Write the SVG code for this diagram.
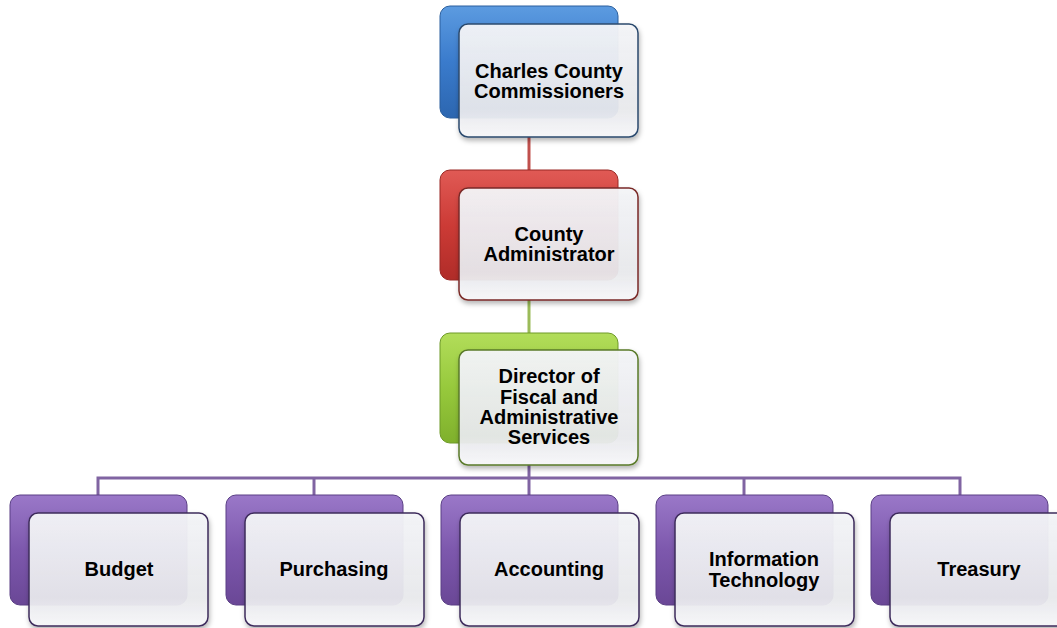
<svg xmlns="http://www.w3.org/2000/svg" width="1057" height="628" viewBox="0 0 1057 628">
<defs>
<linearGradient id="gBlue" x1="0" y1="0" x2="0" y2="1"><stop offset="0" stop-color="#5c9be0"/><stop offset="0.5" stop-color="#3a7bcc"/><stop offset="1" stop-color="#2c66b0"/></linearGradient>
<linearGradient id="gRed" x1="0" y1="0" x2="0" y2="1"><stop offset="0" stop-color="#e05a55"/><stop offset="0.5" stop-color="#cc3b36"/><stop offset="1" stop-color="#b02c28"/></linearGradient>
<linearGradient id="gGreen" x1="0" y1="0" x2="0" y2="1"><stop offset="0" stop-color="#b2dd5a"/><stop offset="0.5" stop-color="#97c93c"/><stop offset="1" stop-color="#7fb02c"/></linearGradient>
<linearGradient id="gPurple" x1="0" y1="0" x2="0" y2="1"><stop offset="0" stop-color="#9a78c8"/><stop offset="0.5" stop-color="#7d58ad"/><stop offset="1" stop-color="#6a4796"/></linearGradient>
<linearGradient id="gFront" x1="0" y1="0" x2="0" y2="1"><stop offset="0" stop-color="#f4f5f8" stop-opacity="0.95"/><stop offset="0.75" stop-color="#e9eaee" stop-opacity="0.93"/><stop offset="1" stop-color="#f8f8fa" stop-opacity="0.95"/></linearGradient>
<filter id="sh" x="-10%" y="-10%" width="125%" height="130%"><feDropShadow dx="1" dy="3" stdDeviation="2.5" flood-color="#000" flood-opacity="0.3"/></filter>
</defs>
<style>
.back{stroke-width:1}
.front{fill:url(#gFront);stroke-width:1.5;filter:url(#sh)}
.hl{fill:none;stroke:#ffffff;stroke-opacity:0.6;stroke-width:2}
.t{font-family:"Liberation Sans",Arial,sans-serif;font-weight:bold;font-size:20px;fill:#000;text-anchor:middle}
.c{fill:none;stroke-width:3}
</style>
<g id="connectors">
<line class="c" x1="529" y1="137" x2="529" y2="172" stroke="#c0504d"/>
<line class="c" x1="529" y1="300" x2="529" y2="335" stroke="#9bbb59"/>
<polyline class="c" points="98,497 98,478 960,478 960,497" stroke="#8064a2"/>
<line class="c" x1="314" y1="478" x2="314" y2="497" stroke="#8064a2"/>
<line class="c" x1="529" y1="465" x2="529" y2="497" stroke="#8064a2"/>
<line class="c" x1="744" y1="478" x2="744" y2="497" stroke="#8064a2"/>
</g>
<g id="n1">
<rect class="back" x="440" y="6" width="178" height="112" rx="10" fill="url(#gBlue)" stroke="#2a5f9e"/>
<rect class="front" x="459" y="24" width="179" height="113" rx="9" stroke="#2b4a6e"/>
<text class="t" x="549" y="78">Charles County</text>
<text class="t" x="549" y="98">Commissioners</text>
</g>
<g id="n2">
<rect class="back" x="440" y="170" width="178" height="110" rx="10" fill="url(#gRed)" stroke="#9a2824"/>
<rect class="front" x="459" y="188" width="179" height="112" rx="9" stroke="#7a2a28"/>
<text class="t" x="549" y="241">County</text>
<text class="t" x="549" y="261">Administrator</text>
</g>
<g id="n3">
<rect class="back" x="440" y="333" width="178" height="110" rx="10" fill="url(#gGreen)" stroke="#6e9a28"/>
<rect class="front" x="459" y="350" width="179" height="115" rx="9" stroke="#5a7a2a"/>
<text class="t" x="549" y="383">Director of</text>
<text class="t" x="549" y="404">Fiscal and</text>
<text class="t" x="549" y="424">Administrative</text>
<text class="t" x="549" y="444">Services</text>
</g>
<g id="n4">
<rect class="back" x="10" y="495" width="177" height="110" rx="10" fill="url(#gPurple)" stroke="#5a3f85"/>
<rect class="front" x="29" y="513" width="179" height="113" rx="9" stroke="#3e2c5c"/>
<text class="t" x="119" y="576">Budget</text>
</g>
<g id="n5">
<rect class="back" x="226" y="495" width="177" height="110" rx="10" fill="url(#gPurple)" stroke="#5a3f85"/>
<rect class="front" x="245" y="513" width="179" height="113" rx="9" stroke="#3e2c5c"/>
<text class="t" x="334" y="576">Purchasing</text>
</g>
<g id="n6">
<rect class="back" x="441" y="495" width="177" height="110" rx="10" fill="url(#gPurple)" stroke="#5a3f85"/>
<rect class="front" x="460" y="513" width="179" height="113" rx="9" stroke="#3e2c5c"/>
<text class="t" x="549" y="576">Accounting</text>
</g>
<g id="n7">
<rect class="back" x="656" y="495" width="177" height="110" rx="10" fill="url(#gPurple)" stroke="#5a3f85"/>
<rect class="front" x="675" y="513" width="179" height="113" rx="9" stroke="#3e2c5c"/>
<text class="t" x="764" y="566">Information</text>
<text class="t" x="764" y="587">Technology</text>
</g>
<g id="n8">
<rect class="back" x="871" y="495" width="177" height="110" rx="10" fill="url(#gPurple)" stroke="#5a3f85"/>
<rect class="front" x="890" y="513" width="179" height="113" rx="9" stroke="#3e2c5c"/>
<text class="t" x="979" y="576">Treasury</text>
</g>
</svg>
